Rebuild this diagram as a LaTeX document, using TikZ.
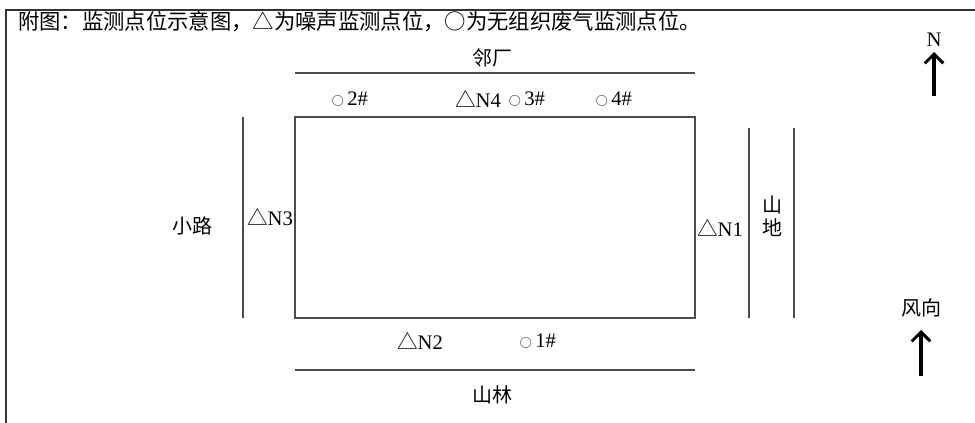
\documentclass[tikz,border=0pt]{standalone}
\usepackage{fontspec}
\setmainfont{Liberation Serif}
\newfontfamily\cjk{Noto Sans CJK SC}
\usetikzlibrary{arrows.meta}

\newcommand\gaspt{{\cjk\fontsize{9pt}{9pt}\selectfont ○}}

\begin{document}
\begin{tikzpicture}[x=0.75pt,y=-0.75pt,>={Straight Barb[length=7pt,width=14pt,line width=2.2pt]},
  lbl/.style={inner sep=0pt,font=\fontsize{15.5pt}{17pt}\selectfont},
  cn/.style={inner sep=0pt,font=\fontsize{15pt}{17pt}\selectfont\cjk},
  edge/.style={line width=1.1pt,black!70},
  pointer/.style={->,line width=2.4pt}]
  \useasboundingbox (0,0) rectangle (975,423);
  % Parameters
  \def\xl{295}   % plant left
  \def\xr{695}   % plant right
  \def\yt{117}   % plant top
  \def\yb{318}   % plant bottom

  % Frame
  \draw[line width=1.4pt,black!80] (975,10) -- (6,10) -- (6,423);

  % Title
  \node[cn,anchor=west,font=\fontsize{16pt}{18pt}\selectfont\cjk] (title) at (18,22)
    {附图：监测点位示意图，△为噪声监测点位，○为无组织废气监测点位。};

  % Plant boundary
  \draw[edge,line width=1.3pt] (\xl,\yt) rectangle (\xr,\yb);

  % Surroundings
  \coordinate (NL) at (\xl,73);  \coordinate (NR) at (\xr,73);
  \coordinate (SL) at (\xl,370); \coordinate (SR) at (\xr,370);
  \coordinate (WT) at (243,\yt); \coordinate (WB) at (243,\yb);
  \coordinate (E1T) at (749,128); \coordinate (E1B) at (749,\yb);
  \coordinate (E2T) at (794,128); \coordinate (E2B) at (794,\yb);
  \draw[edge] (NL) -- (NR);
  \draw[edge] (SL) -- (SR);
  \draw[edge] (WT) -- (WB);
  \draw[edge] (E1T) -- (E1B);
  \draw[edge] (E2T) -- (E2B);

  \node[cn] (north) at (492,58) {邻厂};
  \node[cn] (south) at (492,395) {山林};
  \node[cn] (west) at (192,226) {小路};
  \node[cn,align=center] (east) at (772,216) {山\\地};

  % Monitoring points
  \node[lbl] (p2) at (350,99) {\gaspt\,2\#};
  \node[lbl] (n4) at (478,99) {{\cjk △}N4};
  \node[lbl] (p3) at (527,99) {\gaspt\,3\#};
  \node[lbl] (p4) at (614,99) {\gaspt\,4\#};
  \node[lbl] (n3) at (270,217) {{\cjk △}N3};
  \node[lbl] (n1) at (720,228) {{\cjk △}N1};
  \node[lbl] (n2) at (420,341) {{\cjk △}N2};
  \node[lbl] (p1) at (538,341) {\gaspt\,1\#};

  % North and wind direction
  \node[lbl] (N) at (934,40) {N};
  \coordinate (Ntip) at (934,52);
  \coordinate (Nfoot) at (934,96);
  \draw[pointer] (Nfoot) -- (Ntip);
  \node[cn] (wind) at (921,308) {风向};
  \coordinate (Wtip) at (921,330);
  \coordinate (Wfoot) at (921,376);
  \draw[pointer] (Wfoot) -- (Wtip);
\end{tikzpicture}
\end{document}
